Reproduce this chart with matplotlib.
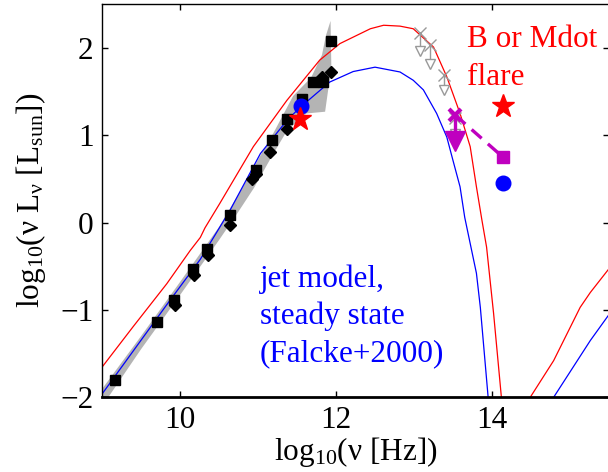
import numpy as np
import matplotlib
matplotlib.use('Agg')
import matplotlib.pyplot as plt

plt.rcParams['font.family'] = ['Liberation Serif', 'DejaVu Serif']
plt.rcParams['mathtext.fontset'] = 'custom'
plt.rcParams['mathtext.rm'] = 'Liberation Serif'
plt.rcParams['mathtext.it'] = 'Liberation Serif'

# jet model, flare (red) - synchrotron bump and high-frequency part
red_x = [8.97, 9.40, 9.83, 10.13, 10.26, 10.32, 10.51, 10.94, 11.37, 11.79, 12.05, 12.44, 12.61,
         12.82, 12.99, 13.25, 13.42, 13.59, 13.72, 13.80, 13.87, 13.93, 14.02, 14.12, 14.15]
red_y = [-1.69, -1.19, -0.70, -0.32, -0.17, -0.06, 0.22, 0.87, 1.40, 1.86, 2.05, 2.22, 2.26,
         2.25, 2.22, 2.01, 1.67, 1.25, 0.87, 0.41, 0.03, -0.28, -1.04, -2.0, -2.4]
red2_x = [14.40, 14.49, 14.79, 15.13, 15.26, 15.55]
red2_y = [-2.15, -2.0, -1.58, -0.97, -0.80, -0.47]

# jet model, steady state (blue)
blue_x = [8.97, 9.40, 9.83, 10.26, 10.64, 11.03, 11.37, 11.54, 11.92, 12.22, 12.50, 12.82, 12.99,
          13.12, 13.29, 13.42, 13.50, 13.59, 13.65, 13.80, 13.85, 13.95, 13.98]
blue_y = [-2.0, -1.47, -0.94, -0.42, 0.14, 0.79, 1.17, 1.32, 1.61, 1.73, 1.78, 1.725, 1.63,
          1.52, 1.25, 0.98, 0.71, 0.41, 0.06, -0.58, -0.97, -2.0, -2.4]
blue2_x = [14.70, 14.79, 15.26, 15.55]
blue2_y = [-2.13, -2.0, -1.35, -0.99]

# variability band of the data (gray)
shade_x = [8.98, 9.5, 10.0, 10.5, 10.8, 11.0, 11.2, 11.45, 11.68, 11.82, 11.87, 11.93,
           11.94, 11.86, 11.62, 11.37, 11.19, 10.95, 10.73, 10.5, 10.0, 9.5, 9.08, 8.98]
shade_y = [-1.93, -1.30, -0.68, -0.05, 0.40, 0.72, 1.03, 1.45, 1.66, 1.92, 2.14, 2.31,
           1.78, 1.27, 1.25, 1.05, 0.78, 0.40, 0.10, -0.20, -0.83, -1.45, -2.0, -2.0]

# measurements
sq_x = [9.17, 9.70, 9.92, 10.17, 10.35, 10.64, 10.97, 11.175, 11.37, 11.57, 11.70, 11.83, 11.93]
sq_y = [-1.805, -1.137, -0.889, -0.527, -0.298, 0.092, 0.60, 0.943, 1.19, 1.42, 1.61, 1.61, 2.08]
dm_x = [9.94, 10.18, 10.36, 10.64, 10.92, 10.97, 11.15, 11.37, 11.82, 11.93]
dm_y = [-0.947, -0.603, -0.374, -0.031, 0.50, 0.56, 0.81, 1.076, 1.668, 1.725]

# IR upper limits (gray)
lim_x = [13.08, 13.20, 13.38, 13.53]
lim_top = [2.17, 2.03, 1.69, 1.20]
lim_bot = [1.97, 1.82, 1.52, 1.02]

# flare points
star_x = [11.535, 14.14]
star_y = [1.19, 1.34]
circ_x = [11.55, 14.14]
circ_y = [1.33, 0.45]
mag_x = [13.53, 14.14]
mag_y = [1.23, 0.75]
mag_arrow_y = 0.93

fig = plt.figure(figsize=(6.08, 4.72), dpi=100)
ax = fig.add_axes([0.1678, 0.1583, 0.8339, 0.8326])

ax.fill(shade_x, shade_y, color='#b4b4b4', lw=0, zorder=1)
ax.plot(red_x, red_y, color='red', lw=0.9, zorder=2)
ax.plot(red2_x, red2_y, color='red', lw=0.9, zorder=2)
ax.plot(blue_x, blue_y, color='blue', lw=0.9, zorder=2)
ax.plot(blue2_x, blue2_y, color='blue', lw=0.9, zorder=2)

ax.plot(sq_x, sq_y, 's', color='black', ms=7.5, zorder=3)
ax.plot(dm_x, dm_y, 'D', color='black', ms=6, zorder=3)

for i in range(len(lim_x)):
    ax.plot([lim_x[i], lim_x[i]], [lim_top[i], lim_bot[i]], color='#999999', lw=1, zorder=3)
ax.plot(lim_x, lim_top, 'x', color='#999999', ms=9, mew=1, zorder=3)
ax.plot(lim_x, lim_bot, 'v', mfc='white', mec='#999999', ms=7, mew=1, zorder=3)

ax.plot(circ_x, circ_y, 'o', color='blue', ms=10.5, zorder=4)
ax.plot(star_x, star_y, '*', color='red', ms=17, zorder=5)

mag = '#bf00bf'
ax.plot(mag_x, mag_y, '--', color=mag, lw=2.4, dashes=(4, 2.5), zorder=4)
ax.plot([mag_x[0], mag_x[0]], [mag_y[0], mag_arrow_y], color=mag, lw=2.4, zorder=4)
ax.plot([mag_x[0]], [mag_arrow_y], 'v', color=mag, ms=15, zorder=4)
ax.plot([mag_x[0]], [mag_y[0]], 'x', color=mag, ms=9, mew=3, zorder=4)
ax.plot([mag_x[1]], [mag_y[1]], 's', color=mag, ms=8, zorder=4)

ax.text(13.675, 1.88, 'B or Mdot\nflare', color='red', fontsize=22.5,
        va='center', ha='left', linespacing=1.4, clip_on=False)
ax.text(11.02, -1.07, 'jet model,\nsteady state\n(Falcke+2000)', color='blue', fontsize=22.5,
        va='center', ha='left', linespacing=1.35)

ax.set_xlim(9, 15.5)
ax.set_ylim(-2, 2.5)
ax.set_xticks([10, 12, 14])
ax.set_yticks([-2, -1, 0, 1, 2])
ax.set_yticklabels(['\u22122', '\u22121', '0', '1', '2'])
ax.tick_params(direction='in', top=True, right=True, length=4, width=1,
               labelsize=22.5, pad=6)
for s in ax.spines.values():
    s.set_linewidth(1.0)
ax.spines['bottom'].set_linewidth(2.0)

ax.set_xlabel('log$_{10}$(ν [Hz])', fontsize=22.5, labelpad=0)
ax.set_ylabel('log$_{10}$(ν L$_{ν}$ [L$_{\\mathrm{sun}}$])', fontsize=22.5, labelpad=9)

fig.savefig('out.png', dpi=100)
